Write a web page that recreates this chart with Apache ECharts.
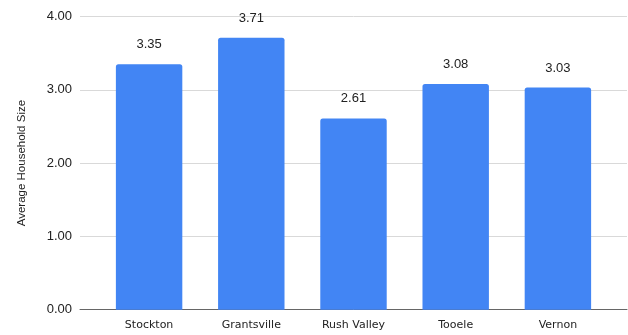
<!DOCTYPE html>
<html>
<head>
<meta charset="utf-8">
<script src="https://cdn.jsdelivr.net/npm/echarts@6/dist/echarts.min.js"></script>
<style>
  html, body { margin: 0; padding: 0; background: #fff; }
  #chart { width: 628px; height: 335px; }
</style>
</head>
<body>
<div id="chart"></div>
<script>
// Average household size by community
var places = ['Stockton', 'Grantsville', 'Rush Valley', 'Tooele', 'Vernon'];
var householdSize = [3.35, 3.71, 2.61, 3.08, 3.03];
var yTicks = [0, 1, 2, 3, 4];

var chart = echarts.init(document.getElementById('chart'), null, { renderer: 'canvas' });

var gridTop = 16.5, gridBottom = 25.3;

chart.setOption({
  animation: false,
  grid: [
    // frame grid: gridlines, y labels and baseline span the full width
    { left: 80, right: 1, top: gridTop, bottom: gridBottom },
    // bar grid: categories sit inset from the frame
    { left: 98, right: 19, top: gridTop, bottom: gridBottom }
  ],
  xAxis: [
    {
      gridIndex: 0, type: 'value', min: 0, max: 1,
      axisLine: { show: true, onZero: false, lineStyle: { color: '#666', width: 1 } },
      axisTick: { show: false }, axisLabel: { show: false }, splitLine: { show: false }
    },
    {
      gridIndex: 1, type: 'category', data: places,
      axisLine: { show: false }, axisTick: { show: false },
      axisLabel: { margin: 10, color: '#222', fontFamily: 'DejaVu Sans', fontSize: 11 }
    }
  ],
  yAxis: [
    {
      gridIndex: 0, type: 'value', min: yTicks[0], max: yTicks[yTicks.length - 1], interval: 1,
      name: 'Average Household Size', nameLocation: 'middle', nameGap: 52,
      nameTextStyle: { color: '#222', fontFamily: 'Liberation Sans', fontSize: 11.5 },
      axisLine: { show: false }, axisTick: { show: false },
      axisLabel: {
        margin: 8, color: '#222', fontFamily: 'Liberation Sans', fontSize: 13,
        formatter: function (v) { return v.toFixed(2); }
      },
      splitLine: { lineStyle: { color: '#d9d9d9', width: 1 } }
    },
    {
      gridIndex: 1, type: 'value', min: yTicks[0], max: yTicks[yTicks.length - 1], interval: 1,
      show: false, splitLine: { show: false }
    }
  ],
  series: [
    {
      type: 'bar', xAxisIndex: 1, yAxisIndex: 1,
      data: householdSize,
      barWidth: '65%',
      itemStyle: { color: '#4285f4', borderRadius: [2.5, 2.5, 0, 0] },
      label: {
        show: true, position: 'top', distance: 13,
        color: '#222', fontFamily: 'Liberation Sans', fontSize: 13,
        formatter: function (p) { return p.value.toFixed(2); }
      }
    }
  ]
});
</script>
</body>
</html>
